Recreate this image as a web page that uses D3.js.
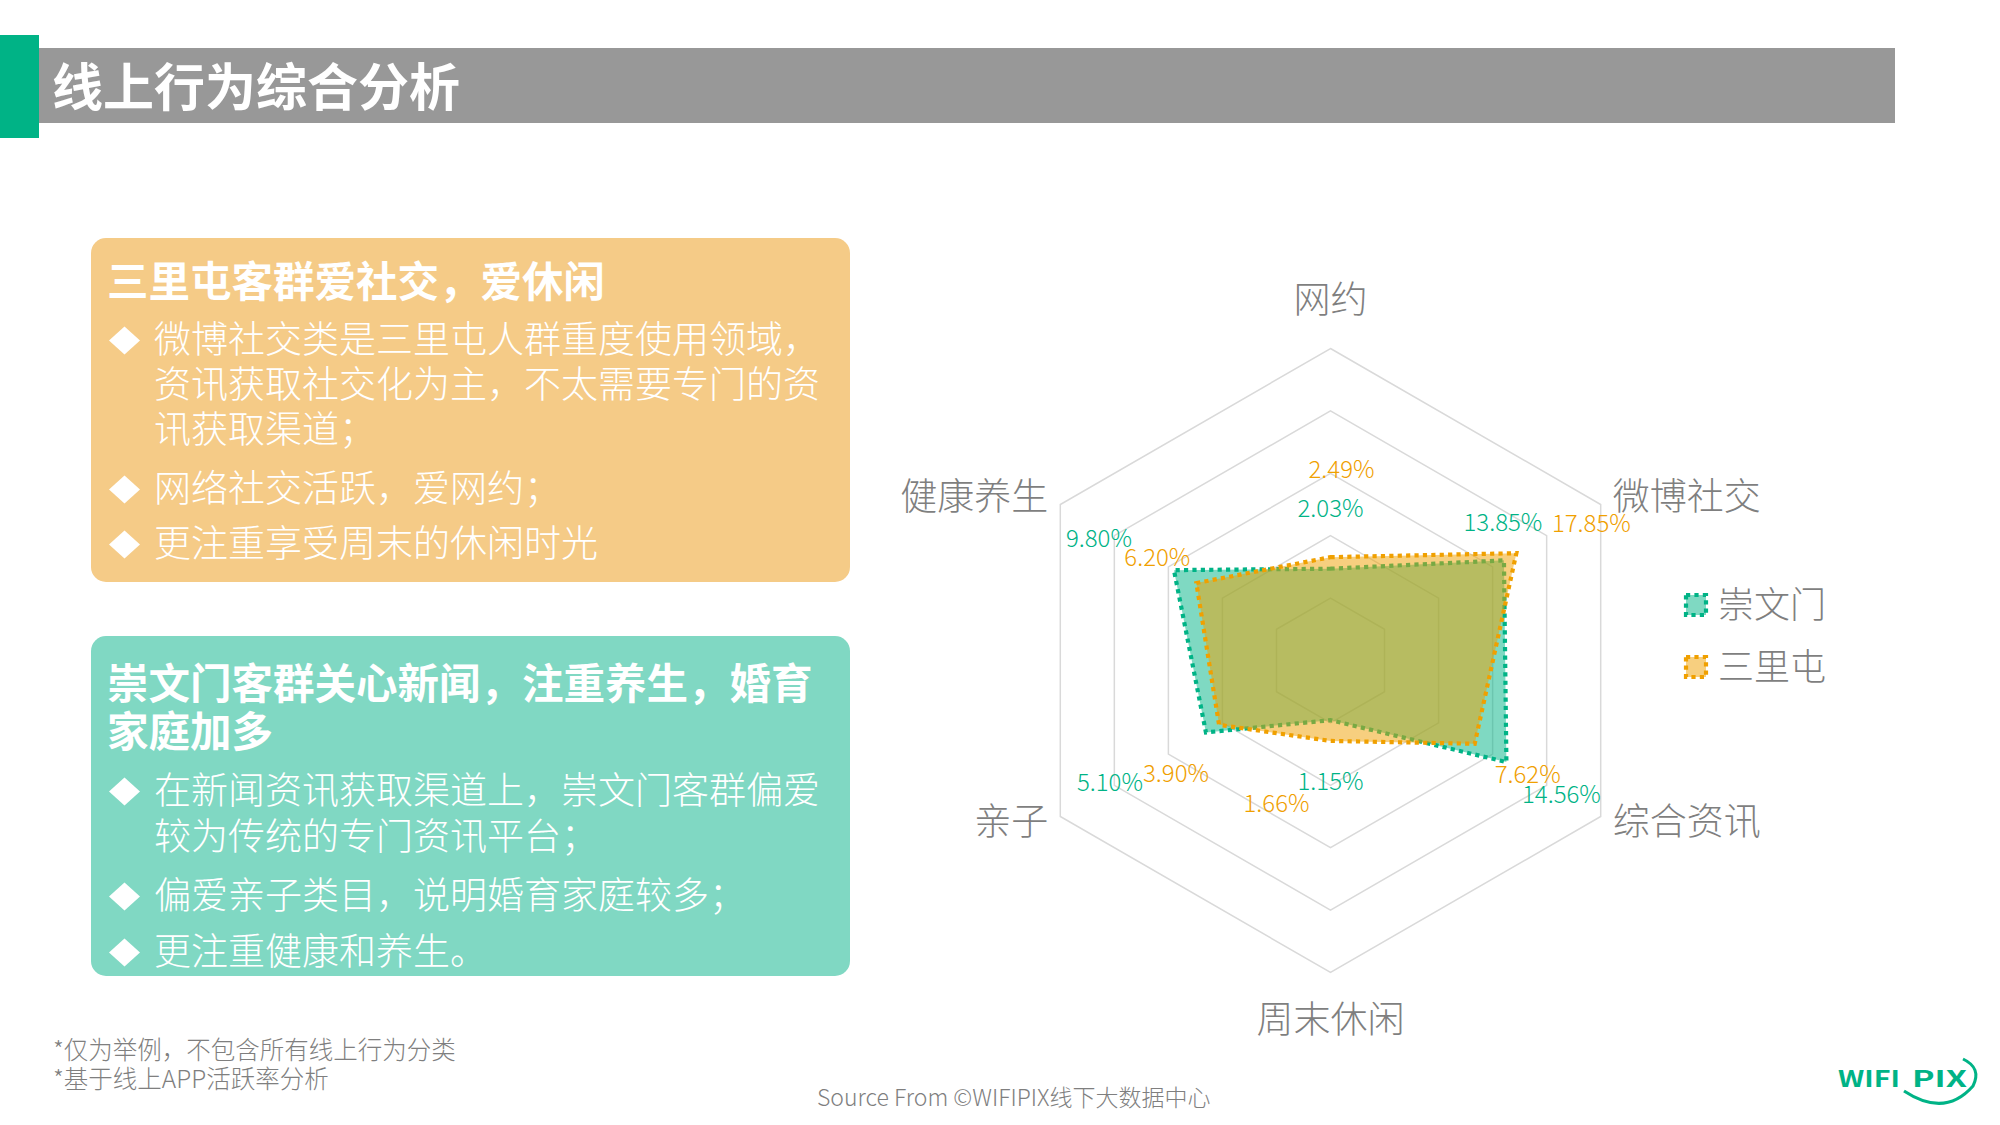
<!DOCTYPE html>
<html><head><meta charset="utf-8">
<script src="https://cdn.jsdelivr.net/npm/d3@7"></script>
<style>
html,body{margin:0;padding:0;background:#fff;}
svg{display:block;}
text{font-family:"Noto Sans CJK SC","Noto Sans",sans-serif;}
</style></head>
<body>
<svg id="chart" width="2000" height="1125"></svg>
<script>
// ---------- data ----------
const categories = ["网约", "微博社交", "综合资讯", "周末休闲", "亲子", "健康养生"];
const seriesNames = ["崇文门", "三里屯"];
const chongwenmen = [2.03, 13.85, 14.56, 1.15, 5.10, 9.80];
const sanlitun   = [2.49, 17.85, 7.62, 1.66, 3.90, 6.20];
const valueDomain = [0.4, 100];   // log value axis (center .. outer ring)
const gridLevels = 5;

const pageTitle = "线上行为综合分析";
const box1Title = ["三里屯客群爱社交，爱休闲"];
const box1Bullets = [
  ["微博社交类是三里屯人群重度使用领域，", "资讯获取社交化为主，不太需要专门的资", "讯获取渠道；"],
  ["网络社交活跃，爱网约；"],
  ["更注重享受周末的休闲时光"]
];
const box2Title = ["崇文门客群关心新闻，注重养生，婚育", "家庭加多"];
const box2Bullets = [
  ["在新闻资讯获取渠道上，崇文门客群偏爱", "较为传统的专门资讯平台；"],
  ["偏爱亲子类目，说明婚育家庭较多；"],
  ["更注重健康和养生。"]
];
const footnotes = ["*仅为举例，不包含所有线上行为分类", "*基于线上APP活跃率分析"];
const sourceText = "Source From ©WIFIPIX线下大数据中心";

// ---------- styles ----------
const colors = ["#00B386", "#F0A000"];
const labelColors = ["#00B386", "#F0A000"];
// data-label offsets relative to each point (dx, dy)
const labelOffsets = [
  [[0,-52],[-1,-29],[55,41],[0,70],[-96,59],[-75,-23]],
  [[11,-79],[75,-21],[53,39],[-54,71],[-43,57],[-39,-17]]
];

const svg = d3.select("#chart");

// ---------- header ----------
svg.append("rect").attr("x",39).attr("y",48).attr("width",1856).attr("height",75).attr("fill","#989898");
svg.append("rect").attr("x",0).attr("y",35).attr("width",39).attr("height",103).attr("fill","#00B386");
svg.append("text").attr("x",52).attr("y",106).attr("font-size",51).attr("font-weight",700)
  .attr("fill","#fff").text(pageTitle);

// ---------- text boxes ----------
function drawBox(y, h, fill, titleLines, titleBase, bullets, bulletBases) {
  const g = svg.append("g");
  g.append("rect").attr("x",91).attr("y",y).attr("width",759).attr("height",h)
    .attr("rx",15).attr("ry",15).attr("fill",fill);
  titleLines.forEach((t,i)=>{
    g.append("text").attr("x",107).attr("y",titleBase[i]).attr("font-size",41.5)
      .attr("font-weight",700).attr("fill","#fff").text(t);
  });
  let k = 0;
  bullets.forEach((lines)=>{
    lines.forEach((t,j)=>{
      const by = bulletBases[k++];
      if (j===0) {
        const cx = 124.5, cy = by - 12.5;
        g.append("path").attr("d",`M${cx-15.5},${cy}L${cx},${cy-14}L${cx+15.5},${cy}L${cx},${cy+14}Z`).attr("fill","#fff");
      }
      g.append("text").attr("x",154).attr("y",by).attr("font-size",37)
        .attr("font-weight",300).attr("fill","#fff").text(t);
    });
  });
}
drawBox(238, 344, "#F5CB87", box1Title, [297], box1Bullets, [353, 398, 443, 502, 557]);
drawBox(636, 340, "#80D8C3", box2Title, [699, 747], box2Bullets, [804, 850, 909, 965]);

// ---------- footnotes ----------
footnotes.forEach((t,i)=>{
  svg.append("text").attr("x",53).attr("y",1059 + i*29).attr("font-size",24.5)
    .attr("font-weight",300).attr("fill","#7F7F7F").text(t);
});
svg.append("text").attr("x",817).attr("y",1106).attr("font-size",23)
  .attr("font-weight",300).attr("fill","#7F7F7F").text(sourceText);

// ---------- radar ----------
const cx = 1330.5, cy = 660.5, R = 312;
const rScale = d3.scaleLog().domain(valueDomain).range([0, R]);
const angle = i => i * 2 * Math.PI / categories.length;
const g = svg.append("g").attr("transform",`translate(${cx},${cy})`);

// grid rings
const ringLine = d3.lineRadial().angle((d,i)=>angle(i)).radius(d=>d).curve(d3.curveLinearClosed);
d3.range(1, gridLevels+1).forEach(l=>{
  const rr = R * l / gridLevels;
  g.append("path").attr("d", ringLine(categories.map(()=>rr)))
    .attr("fill","none").attr("stroke","#D9D9D9").attr("stroke-width",1.5);
});

// series
const allSeries = [chongwenmen, sanlitun];
const valLine = d3.lineRadial().angle((d,i)=>angle(i)).radius(d=>rScale(d)).curve(d3.curveLinearClosed);
allSeries.forEach((s,si)=>{
  g.append("path").attr("d", valLine(s))
    .attr("fill", colors[si]).attr("fill-opacity",0.5)
    .attr("stroke", colors[si]).attr("stroke-width",4.2)
    .attr("stroke-dasharray","4.2 4.2").attr("stroke-linejoin","miter");
});

// data labels
allSeries.forEach((s,si)=>{
  s.forEach((v,i)=>{
    const r = rScale(v), a = angle(i);
    const px = r*Math.sin(a), py = -r*Math.cos(a);
    const off = labelOffsets[si][i];
    g.append("text").attr("x", px+off[0]).attr("y", py+off[1])
      .attr("text-anchor","middle").attr("font-size",24).attr("font-weight",300)
      .attr("fill", labelColors[si]).text(v.toFixed(2) + "%");
  });
});

// category labels
categories.forEach((c,i)=>{
  const a = angle(i);
  const vx = R*Math.sin(a), vy = -R*Math.cos(a);
  const s = Math.sin(a);
  let x = vx, y = vy, anchor = "middle";
  if (Math.abs(s) < 1e-6) {
    y = vy + (Math.cos(a) > 0 ? -48 : 48);
  } else {
    x = vx + (s > 0 ? 12 : -12);
    anchor = s > 0 ? "start" : "end";
    y = vy + (Math.cos(a) > 0 ? -7 : 6);
  }
  g.append("text").attr("x",x).attr("y",y).attr("dy","0.35em")
    .attr("text-anchor",anchor).attr("font-size",37).attr("font-weight",300)
    .attr("fill","#7F7F7F").text(c);
});

// legend
seriesNames.forEach((n,i)=>{
  const ly = 593 + i*62;
  svg.append("rect").attr("x",1686).attr("y",ly+2).attr("width",20).attr("height",20)
    .attr("fill",colors[i]).attr("fill-opacity",0.5)
    .attr("stroke",colors[i]).attr("stroke-width",4.2).attr("stroke-dasharray","4.2 4.2");
  svg.append("text").attr("x",1718).attr("y",ly+12).attr("dy","0.35em")
    .attr("font-size",36).attr("font-weight",300).attr("fill","#7F7F7F").text(n);
});

// logo
const logo = svg.append("g");
logo.append("text").attr("x",1838).attr("y",1087).attr("font-family","DejaVu Sans")
  .attr("font-size",23).attr("font-weight",700).attr("fill","#00B386")
  .attr("textLength",62).attr("lengthAdjust","spacingAndGlyphs").text("WIFI");
logo.append("text").attr("x",1912).attr("y",1087).attr("font-family","DejaVu Sans")
  .attr("font-size",23).attr("font-weight",700).attr("fill","#00B386")
  .attr("textLength",55).attr("lengthAdjust","spacingAndGlyphs").text("PIX");
logo.append("path").attr("d","M1904,1091 Q1945,1118 1973,1086 Q1982,1068 1963,1059")
  .attr("fill","none").attr("stroke","#00B386").attr("stroke-width",3);
</script>
</body></html>
